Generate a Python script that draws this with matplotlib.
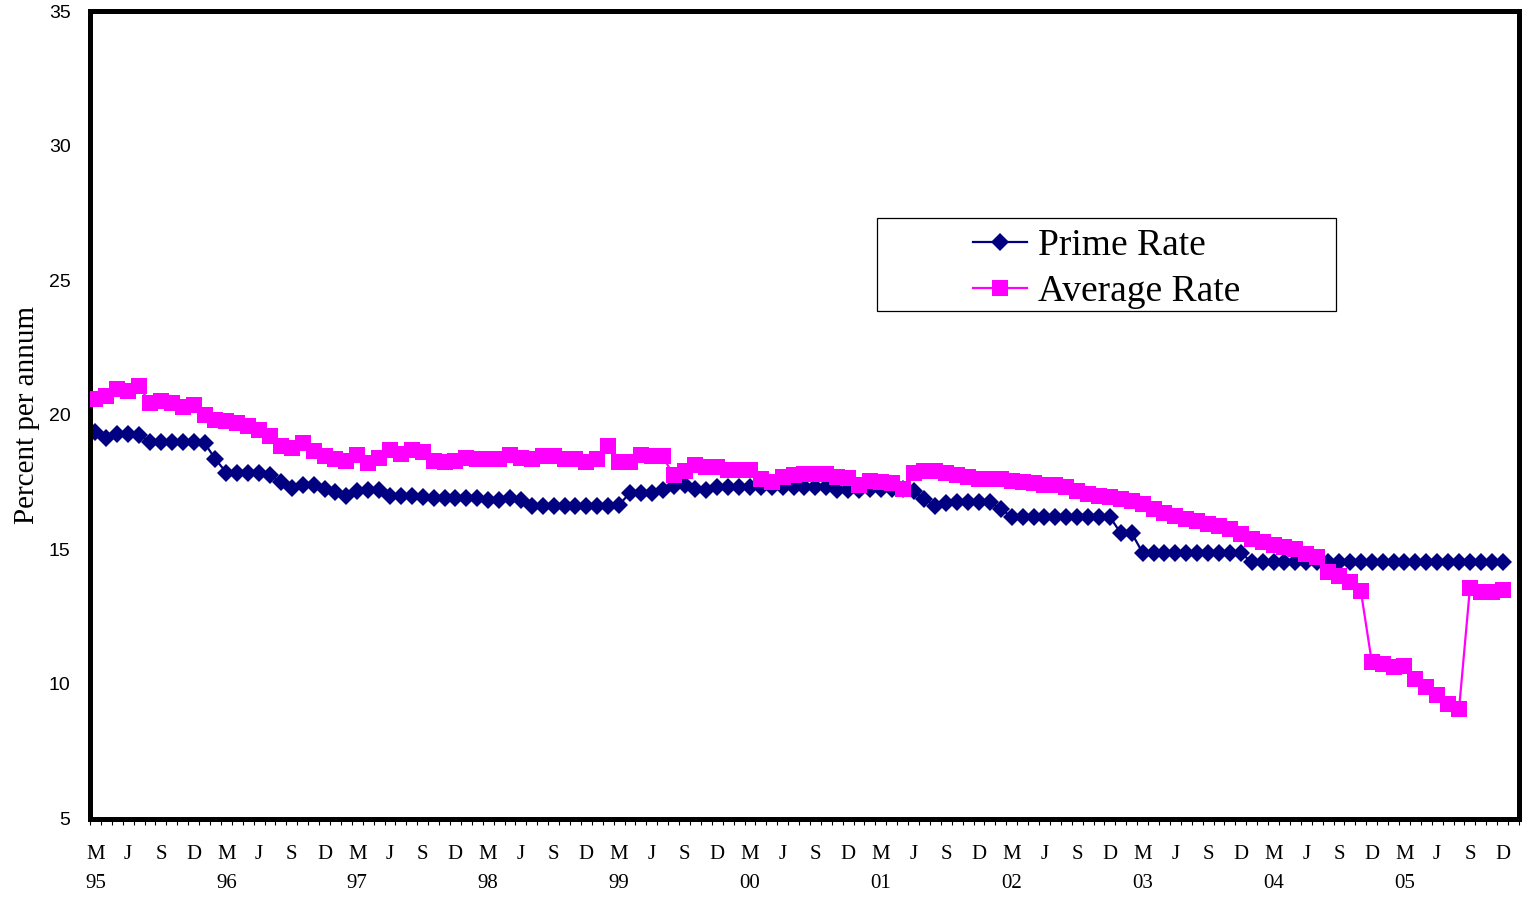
import matplotlib
matplotlib.use('Agg')
import matplotlib.pyplot as plt
from matplotlib.patches import Rectangle

#------------------------------- data (monthly, Mar 1995 - Dec 2005)
prime_1995 = [19.35, 19.15, 19.3, 19.3, 19.25, 19.0, 19.0, 19.0, 19.0, 19.0]
prime_1996 = [18.95, 18.35, 17.85, 17.85, 17.85, 17.85, 17.75, 17.5, 17.28, 17.4, 17.4, 17.25]
prime_1997 = [17.12, 17.0, 17.15, 17.22, 17.22, 17.0, 17.0, 17.0, 16.95, 16.9, 16.9, 16.9]
prime_1998 = [16.9, 16.9, 16.85, 16.85, 16.9, 16.85, 16.6, 16.6, 16.6, 16.6, 16.6, 16.6]
prime_1999 = [16.6, 16.6, 16.65, 17.1, 17.1, 17.1, 17.2, 17.35, 17.4, 17.25, 17.2, 17.3]
prime_2000 = [17.3, 17.3, 17.3, 17.3, 17.3, 17.3, 17.3, 17.3, 17.3, 17.3, 17.2, 17.2]
prime_2001 = [17.2, 17.25, 17.25, 17.25, 17.25, 17.15, 16.87, 16.62, 16.72, 16.75, 16.75, 16.75]
prime_2002 = [16.75, 16.5, 16.2, 16.2, 16.2, 16.2, 16.2, 16.2, 16.2, 16.2, 16.2, 16.2]
prime_2003 = [15.6, 15.6, 14.87, 14.87, 14.87, 14.87, 14.87, 14.87, 14.87, 14.87, 14.87, 14.87]
prime_2004 = [14.52, 14.52, 14.52, 14.52, 14.52, 14.52, 14.52, 14.52, 14.52, 14.52, 14.52, 14.52]
prime_2005 = [14.52, 14.52, 14.52, 14.52, 14.52, 14.52, 14.52, 14.52, 14.52, 14.52, 14.52, 14.52]

avg_1995 = [20.6, 20.7, 20.95, 20.9, 21.05, 20.45, 20.5, 20.45, 20.3, 20.35]
avg_1996 = [20.0, 19.8, 19.75, 19.7, 19.6, 19.45, 19.2, 18.85, 18.75, 18.95, 18.65, 18.45]
avg_1997 = [18.37, 18.28, 18.5, 18.22, 18.4, 18.7, 18.55, 18.7, 18.6, 18.3, 18.25, 18.3]
avg_1998 = [18.4, 18.35, 18.35, 18.35, 18.5, 18.4, 18.35, 18.45, 18.45, 18.35, 18.35, 18.25]
avg_1999 = [18.35, 18.85, 18.25, 18.25, 18.5, 18.45, 18.45, 17.75, 17.9, 18.15, 18.05, 18.05]
avg_2000 = [17.95, 17.95, 17.95, 17.6, 17.5, 17.7, 17.75, 17.8, 17.8, 17.8, 17.7, 17.65]
avg_2001 = [17.4, 17.55, 17.5, 17.45, 17.25, 17.85, 17.9, 17.9, 17.85, 17.75, 17.7, 17.6]
avg_2002 = [17.6, 17.6, 17.55, 17.5, 17.45, 17.4, 17.4, 17.3, 17.15, 17.05, 17.0, 16.95]
avg_2003 = [16.88, 16.8, 16.68, 16.5, 16.35, 16.24, 16.12, 16.05, 15.95, 15.87, 15.75, 15.57]
avg_2004 = [15.38, 15.26, 15.16, 15.07, 15.0, 14.83, 14.7, 14.14, 14.0, 13.77, 13.46, 10.83]
avg_2005 = [10.75, 10.62, 10.65, 10.19, 9.88, 9.57, 9.26, 9.05, 13.55, 13.4, 13.42, 13.5]

prime = (prime_1995 + prime_1996 + prime_1997 + prime_1998 + prime_1999 + prime_2000
         + prime_2001 + prime_2002 + prime_2003 + prime_2004 + prime_2005)
average = (avg_1995 + avg_1996 + avg_1997 + avg_1998 + avg_1999 + avg_2000
           + avg_2001 + avg_2002 + avg_2003 + avg_2004 + avg_2005)

month_letters = ['M', 'J', 'S', 'D']
years = ['95', '96', '97', '98', '99', '00', '01', '02', '03', '04', '05']
#-------------------------------

serif = 'Liberation Serif'
sans = 'Liberation Sans'

fig = plt.figure(figsize=(15.22, 8.99), dpi=100)
ax = fig.add_axes([90 / 1522, 1 - 818.5 / 899, 1429 / 1522, 807.5 / 899])

x = list(range(len(prime)))
ax.plot(x, prime, color='#000080', lw=1.6, marker='D', markersize=9.5,
        markeredgewidth=0, label='Prime Rate', zorder=2)
ax.plot(x, average, color='#FF00FF', lw=1.6, marker='s', markersize=11,
        markeredgewidth=0, label='Average Rate', zorder=3)

ax.set_xlim(-0.5, len(prime) + 0.5)
ax.set_ylim(5, 35)
ax.set_yticks([5, 10, 15, 20, 25, 30, 35])
ax.tick_params(axis='y', length=0, pad=14, labelsize=14)
for t in ax.get_yticklabels():
    t.set_fontfamily(sans)

# labels every quarter, small ticks between months
pos = []
labels = []
for i in range(0, len(prime), 3):
    lab = month_letters[(i // 3) % 4]
    if lab == 'M':
        lab = lab + '\n' + years[i // 12]
    pos.append(i)
    labels.append(lab)
ax.set_xticks(pos)
ax.set_xticklabels(labels, fontfamily=serif, fontsize=15, linespacing=1.7)
ax.set_xticks([k - 0.5 for k in range(len(prime) + 2)], minor=True)
ax.tick_params(axis='x', which='major', length=0, pad=19)
ax.tick_params(axis='x', which='minor', length=4.5, width=0.8, direction='out')

for s in ax.spines.values():
    s.set_linewidth(3.6)

ax.set_ylabel('Percent per annum', fontfamily=serif, fontsize=21, labelpad=6)

# legend with its own box
leg = ax.legend(loc='center', bbox_to_anchor=(0.7115, 0.681), frameon=False,
                prop={'family': serif, 'size': 27}, handlelength=1.45,
                handletextpad=0.3, labelspacing=0.3, borderaxespad=0)
ax.add_patch(Rectangle((0.551, 0.629), 0.321, 0.115, transform=ax.transAxes,
                       fill=False, edgecolor='black', lw=0.9, zorder=5))

fig.savefig('out.png', dpi=100)
